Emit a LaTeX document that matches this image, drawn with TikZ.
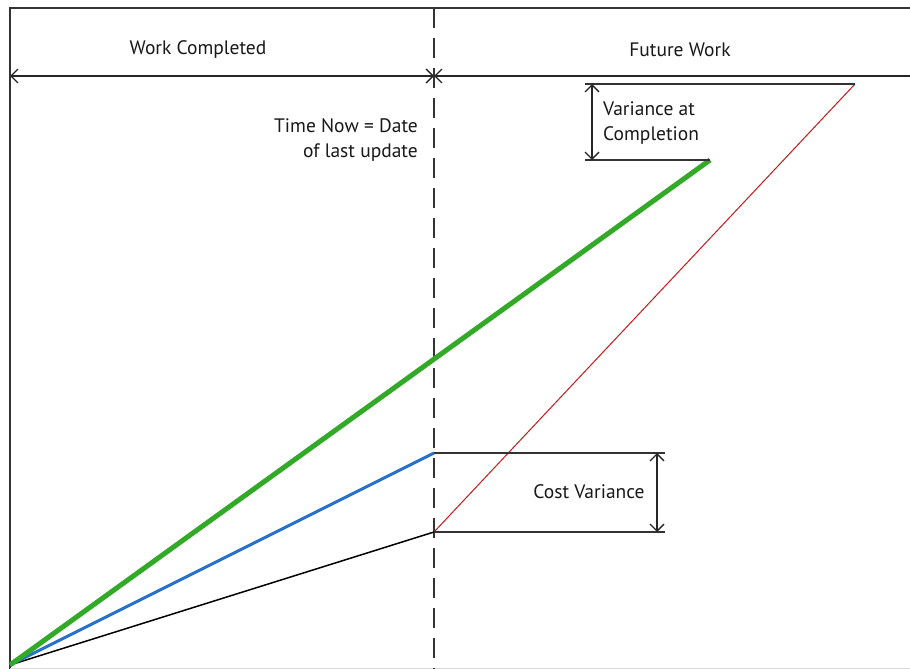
\documentclass[tikz,border=0pt]{standalone}
\usepackage{fontspec}
\setmainfont{PT Sans}
\usetikzlibrary{arrows.meta}
\begin{document}
\begin{tikzpicture}[x=1pt,y=-1pt,
  frame/.style={draw=black!80,line width=2pt},
  guide/.style={draw=black!80,line width=1.3pt},
  barb/.style={line width=1.3pt,draw=black!85,arrows={Straight Barb[length=7pt,width=14pt,line width=1.3pt]-Straight Barb[length=7pt,width=14pt,line width=1.3pt]}},
  lbl/.style={font=\fontsize{19.5}{24.5}\selectfont,text=black!90,inner sep=0pt}]
\useasboundingbox[fill=white] (0,0) rectangle (910,669);
% frame
\draw[frame] (10,669) -- (10,8) -- (910,8);
\draw[draw=black!15,line width=1pt] (10,668) -- (910,668);
% time-now divider
\coordinate (tnTop) at (434,8);
\coordinate (tnBot) at (434,669);
\draw[draw=black!80,line width=2pt,dash pattern=on 20pt off 10pt] (tnTop) -- (tnBot);
% span arrows
\coordinate (wl) at (10,76);
\coordinate (tn) at (434,76);
\coordinate (wr) at (910,76);
\draw[barb] (wl) -- (tn);
\draw[barb,arrows={Straight Barb[length=7pt,width=14pt,line width=1.3pt]-}] (tn) -- (wr);
\node[lbl] (wc) at (198,50) {Work Completed};
\node[lbl] (fw) at (680,50) {Future Work};
% curves
\coordinate (o) at (10,665);
\coordinate (g) at (710,160);
\coordinate (b) at (434,453);
\coordinate (k) at (434,532);
\coordinate (r) at (855,84);
\draw[draw=black,line width=1.5pt] (o) -- (k);
\draw[draw=red!75!black!90,line width=1pt] (k) -- (r);
\draw[draw={rgb,255:red,40;green,115;blue,200},line width=3pt] (o) -- (b);
\draw[draw={rgb,255:red,50;green,170;blue,40},line width=5pt] (o) -- (g);
% cost variance
\coordinate (cvb) at (665,453);
\coordinate (cvk) at (665,532);
\draw[guide] (b) -- (cvb);
\draw[guide] (k) -- (cvk);
\coordinate (cva) at (657,453);
\coordinate (cvz) at (657,532);
\draw[barb] (cva) -- (cvz);
\node[lbl] (cv) at (589,492) {Cost Variance};
% variance at completion
\coordinate (vr) at (585,84);
\coordinate (vg) at (585,160);
\draw[guide] (vr) -- (r);
\draw[guide] (vg) -- (g);
\coordinate (vaa) at (592,84);
\coordinate (vaz) at (592,160);
\draw[barb] (vaa) -- (vaz);
\node[lbl,anchor=west,align=left] (vac) at (603,123) {Variance at\\Completion};
% time now label
\node[lbl,anchor=east,align=right] (tnl) at (418,140) {Time Now = Date\\of last update};
\end{tikzpicture}
\end{document}
